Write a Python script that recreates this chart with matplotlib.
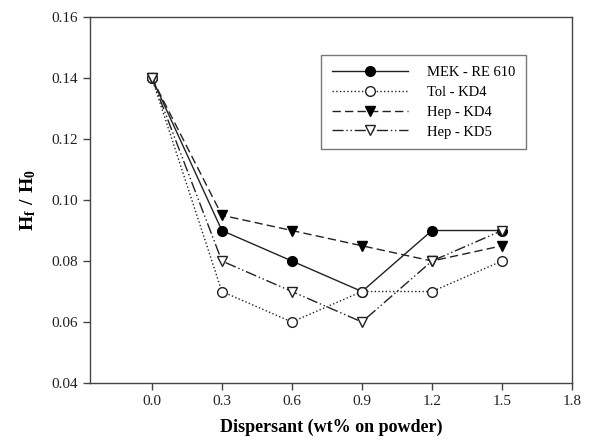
import matplotlib
matplotlib.use("Agg")
import matplotlib.pyplot as plt

plt.rcParams['font.family'] = ['Liberation Serif', 'DejaVu Serif']
plt.rcParams['mathtext.fontset'] = 'custom'
plt.rcParams['mathtext.rm'] = 'Liberation Serif'
plt.rcParams['mathtext.bf'] = 'Liberation Serif:bold'

dispersant = [0.0, 0.3, 0.6, 0.9, 1.2, 1.5]
mek_re610 = [0.14, 0.09, 0.08, 0.07, 0.09, 0.09]
tol_kd4 = [0.14, 0.07, 0.06, 0.07, 0.07, 0.08]
hep_kd4 = [0.14, 0.095, 0.09, 0.085, 0.08, 0.085]
hep_kd5 = [0.14, 0.08, 0.07, 0.06, 0.08, 0.09]

c = '#222222'
fig = plt.figure(figsize=(6.11, 4.43), dpi=100)
ax = fig.add_axes([0.1473, 0.1354, 0.7889, 0.8262])

ax.plot(dispersant, mek_re610, '-', color=c, lw=1, marker='o', ms=7,
        mfc='black', mec='black', label='MEK - RE 610')
ax.plot(dispersant, tol_kd4, ':', color=c, lw=1, marker='o', ms=7,
        mfc='white', mec=c, label='Tol - KD4')
ax.plot(dispersant, hep_kd4, '--', color=c, lw=1, marker='v', ms=7,
        mfc='black', mec='black', dashes=(6, 3), label='Hep - KD4')
ax.plot(dispersant, hep_kd5, color=c, lw=1, marker='v', ms=7,
        mfc='white', mec=c, dashes=(8, 2, 1, 2, 1, 2), label='Hep - KD5')

ax.set_xlim(-0.265, 1.8)
ax.set_ylim(0.04, 0.16)
ax.set_xticks([0.0, 0.3, 0.6, 0.9, 1.2, 1.5, 1.8])
ax.set_yticks([0.04, 0.06, 0.08, 0.10, 0.12, 0.14, 0.16])
ax.set_xticklabels(['0.0', '0.3', '0.6', '0.9', '1.2', '1.5', '1.8'])
ax.set_yticklabels(['0.04', '0.06', '0.08', '0.10', '0.12', '0.14', '0.16'])
ax.tick_params(direction='out', length=5, width=1, colors='#444444',
               labelsize=11, labelcolor='#222222', top=False, right=False)
for s in ax.spines.values():
    s.set_color('#444444')
    s.set_linewidth(1)

ax.set_xlabel('Dispersant (wt% on powder)', fontsize=13, fontweight='bold', labelpad=8)
ax.set_ylabel(r'$\mathbf{H_f\ /\ H_0}$', fontsize=14, labelpad=10)

leg = ax.legend(loc='upper left', bbox_to_anchor=(0.479, 0.896), fontsize=10.5,
                frameon=True, fancybox=False, edgecolor='#555555',
                handlelength=5.2, borderpad=0.75, labelspacing=0.45,
                handletextpad=1.3, borderaxespad=0)
leg.get_frame().set_linewidth(1)

fig.savefig('out.png', dpi=100)
